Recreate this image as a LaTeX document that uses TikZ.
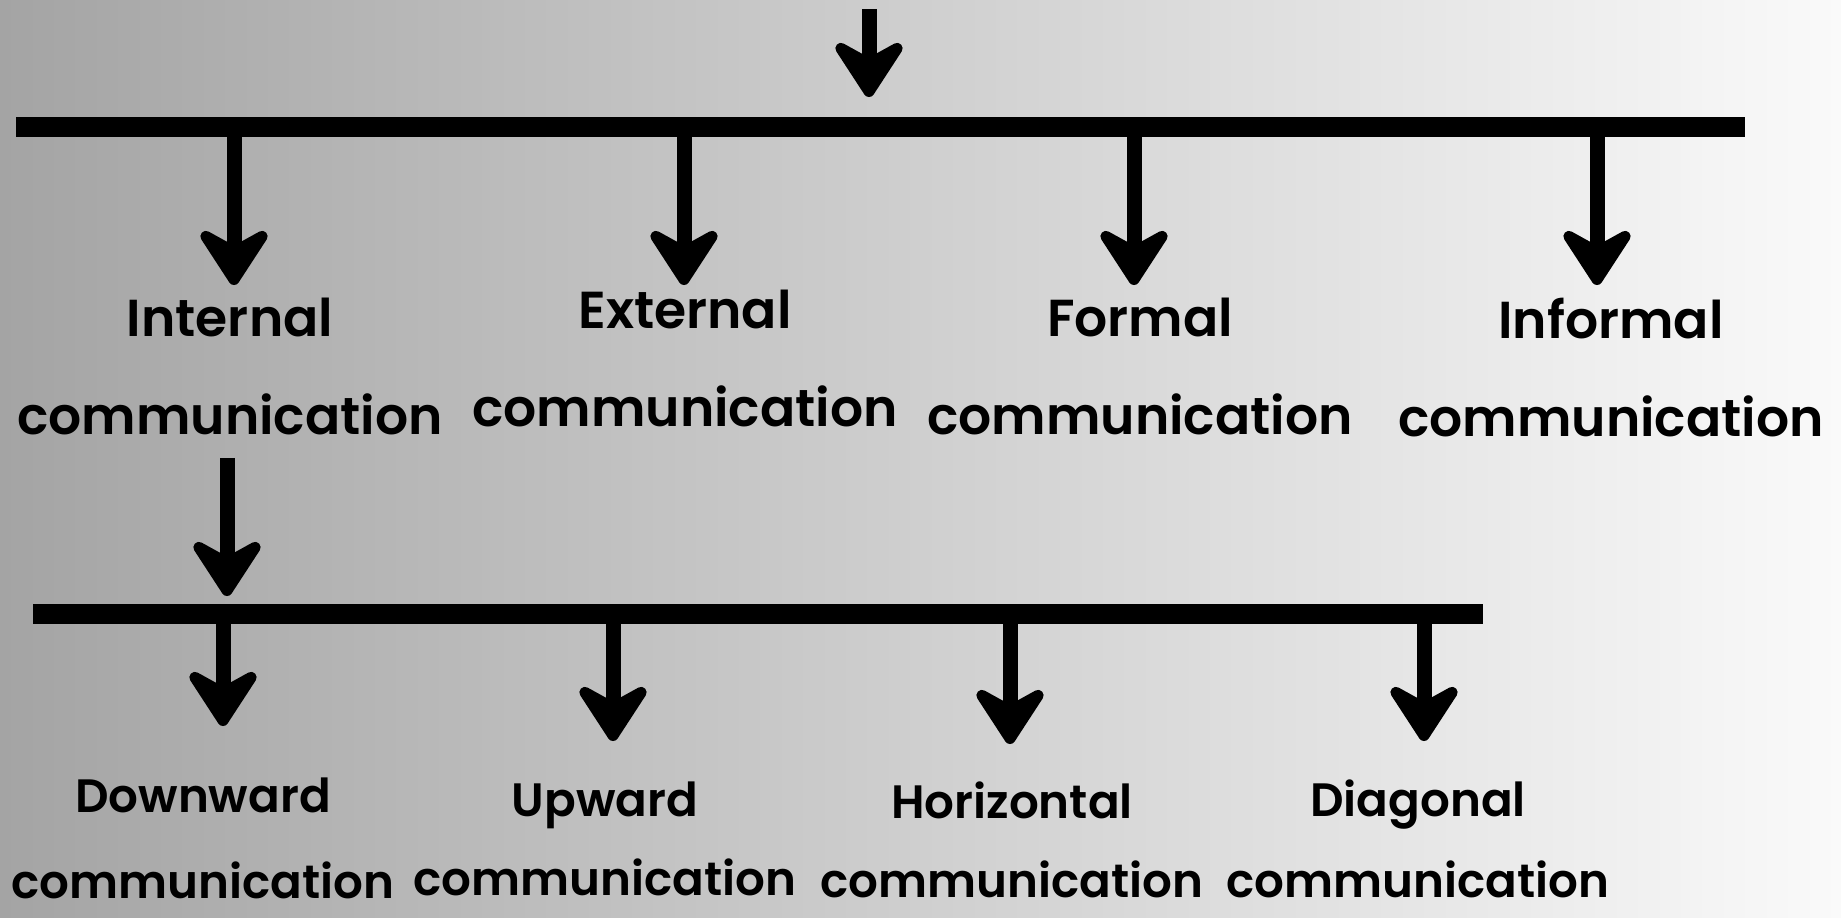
\documentclass[tikz,border=0pt]{standalone}
\usepackage{fontspec}
\setmainfont{Poppins}
\newfontfamily\labfont{Poppins SemiBold}
\usetikzlibrary{arrows.meta}
\tikzset{
  bar/.style={line width=10pt, line cap=rect},
  arr/.style={line width=7.5pt, -{Stealth[length=34pt, width=44pt, inset=12pt, round]}},
  lab1/.style={font=\labfont\fontsize{26}{49}\selectfont, align=center, inner sep=0pt, anchor=north},
  lab2/.style={font=\labfont\fontsize{23.4}{43}\selectfont, align=center, inner sep=0pt, anchor=north},
}
\begin{document}
\begin{tikzpicture}[x=0.5pt, y=-0.5pt]
\useasboundingbox (0,0) rectangle (1841,917);
\shade[left color={rgb,255:red,164;green,164;blue,164}, right color={rgb,255:red,250;green,250;blue,250}] (0,0) rectangle (1841,917);

% top connector and first bar
\coordinate (top) at (869,9);
\coordinate (b1l) at (26,127);
\coordinate (b1r) at (1735,127);
\coordinate (b1m) at (869,127);
\draw[bar] (b1l) -- (b1r);
\draw[arr] (top) -- ([yshift=15pt]b1m);

% level 1 labels
\node[lab1] (int) at (230,298) {Internal\\communication};
\node[lab1] (ext) at (685,290) {External\\communication};
\node[lab1] (for) at (1140,298) {Formal\\communication};
\node[lab1] (inf) at (1611,298) {Informal\\communication};

\foreach \n/\x in {int/234, ext/684, for/1134, inf/1597}{
  \coordinate (c\n) at (\x,127);
  \draw[arr] (c\n) -- (\x,285);
}

% second bar
\coordinate (b2l) at (43,614);
\coordinate (b2r) at (1473,614);
\draw[bar] (b2l) -- (b2r);
\coordinate (i2) at (227,614);
\draw[arr] (int.south -| i2) ++(0,22) -- ([yshift=9pt]i2);

% level 2 labels
\node[lab2] (dow) at (203,777) {Downward\\communication};
\node[lab2] (upw) at (605,781) {Upward\\[-3.5pt]communication};
\node[lab2] (hor) at (1012,781) {Horizontal\\[-3.5pt]communication};
\node[lab2] (dia) at (1418,779) {Diagonal\\[-2.5pt]communication};

\foreach \n/\x/\y in {dow/223/726, upw/613/741, hor/1010/744, dia/1424/741}{
  \coordinate (d\n) at (\x,614);
  \draw[arr] (d\n) -- (\x,\y);
}
\end{tikzpicture}
\end{document}
